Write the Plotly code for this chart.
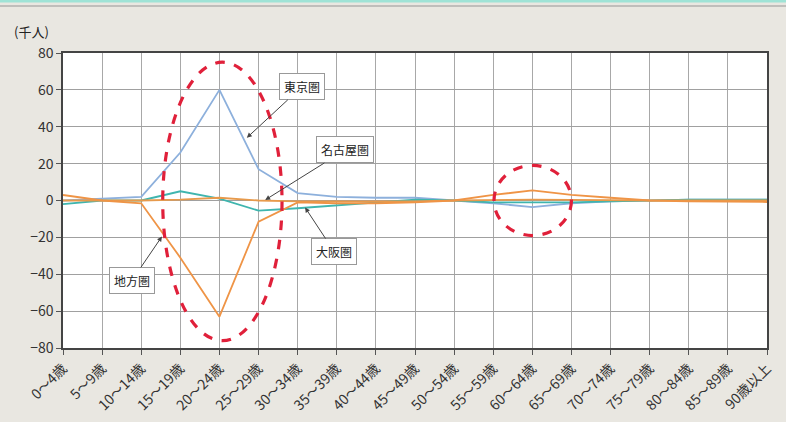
import plotly.graph_objects as go

categories = ["0～4歳", "5～9歳", "10～14歳", "15～19歳", "20～24歳", "25～29歳", "30～34歳",
              "35～39歳", "40～44歳", "45～49歳", "50～54歳", "55～59歳", "60～64歳", "65～69歳",
              "70～74歳", "75～79歳", "80～84歳", "85～89歳", "90歳以上"]

tokyo   = [0, 1, 2, 26, 60, 17, 4, 2, 1.5, 1.5, 0, -1.5, -3.6, -1.5, -0.5, 0, 0.5, 0.5, 0.5]
nagoya  = [0, 0, 0, 0.5, 1.5, 0, -0.5, -0.5, -0.5, -0.5, 0, 0.3, 0.5, 0.3, 0, 0, 0, 0, 0]
osaka   = [-2, 0, 0, 5, 1, -5.5, -4.2, -2.5, -1, 0.5, 0, -1, -1, -1, -0.5, 0, 0.4, 0.4, 0.4]
chiho   = [3, 0, -1.5, -31, -63, -11.5, -1, -1.5, -1.5, -1, 0, 3, 5.5, 3, 1.5, 0, -0.5, -0.8, -0.8]

yticks = [80, 60, 40, 20, 0, -20, -40, -60, -80]

font = "Noto Sans CJK JP"

fig = go.Figure()
for name, vals, col in [("東京圏", tokyo, "#8db0dc"), ("大阪圏", osaka, "#3fb5ae"),
                        ("名古屋圏", nagoya, "#e79a4c"), ("地方圏", chiho, "#ef9446")]:
    fig.add_trace(go.Scatter(x=categories, y=vals, mode="lines", name=name,
                             line=dict(color=col, width=1.8), showlegend=False))

shapes = [
    # top decoration
    dict(type="line", xref="paper", yref="paper", x0=-0.2, x1=1.2,
         y0=1 + 52 / 295, y1=1 + 52 / 295, line=dict(color="#9fe3d6", width=3)),
    dict(type="line", xref="paper", yref="paper", x0=-0.2, x1=1.2,
         y0=1 + 47 / 295, y1=1 + 47 / 295, line=dict(color="#b0b0ae", width=1.5)),
    # red dashed ellipses
    dict(type="circle", xref="x", yref="y", x0=2.55, x1=5.6, y0=-76, y1=75,
         line=dict(color="#e0203a", width=3.2, dash="dash")),
    dict(type="circle", xref="x", yref="y", x0=11.02, x1=13.0, y0=-19, y1=19,
         line=dict(color="#e0203a", width=3.2, dash="dash")),
]

ann = [
    ("東京圏", 4.7, 34, 55, -51),
    ("名古屋圏", 5.17, 0.3, 80, -50),
    ("大阪圏", 6.19, -3.8, 29, 44),
    ("地方圏", 2.53, -19.5, -30, 44),
]
for text, x, y, ax, ay in ann:
    fig.add_annotation(x=x, y=y, xref="x", yref="y", text=text, ax=ax, ay=ay,
                       showarrow=True, arrowhead=2, arrowsize=1, arrowwidth=1,
                       arrowcolor="#444", bgcolor="white", bordercolor="#999",
                       borderwidth=1, borderpad=4,
                       font=dict(family=font, size=12, color="#222"))

fig.add_annotation(text="(千人)", xref="paper", yref="paper", x=-0.072, y=1.035,
                   xanchor="left", yanchor="bottom", showarrow=False,
                   font=dict(family=font, size=13, color="#222"))

fig.update_layout(
    width=786, height=422,
    margin=dict(l=63, r=19, t=53, b=74),
    paper_bgcolor="#e9e7e1", plot_bgcolor="white",
    font=dict(family=font, color="#333"),
    shapes=shapes,
)

fig.update_xaxes(type="category", range=[0, 18], showgrid=True, gridcolor="#a8a8a8",
                 gridwidth=1, tickangle=-45, ticks="outside", ticklen=5, tickcolor="#555",
                 showline=True, linecolor="#444", linewidth=1.5, mirror=True,
                 automargin=False,
                 tickfont=dict(family=font, size=14, color="#333"))
fig.update_yaxes(range=[-80, 80], tickvals=yticks, showgrid=True, gridcolor="#a0a0a0",
                 gridwidth=1, ticks="outside", ticklen=5, tickcolor="#555",
                 showline=True, linecolor="#444", linewidth=1.5, mirror=True,
                 automargin=False,
                 zeroline=False, tickfont=dict(family=font, size=14, color="#333"))

fig.write_html("out.html")
